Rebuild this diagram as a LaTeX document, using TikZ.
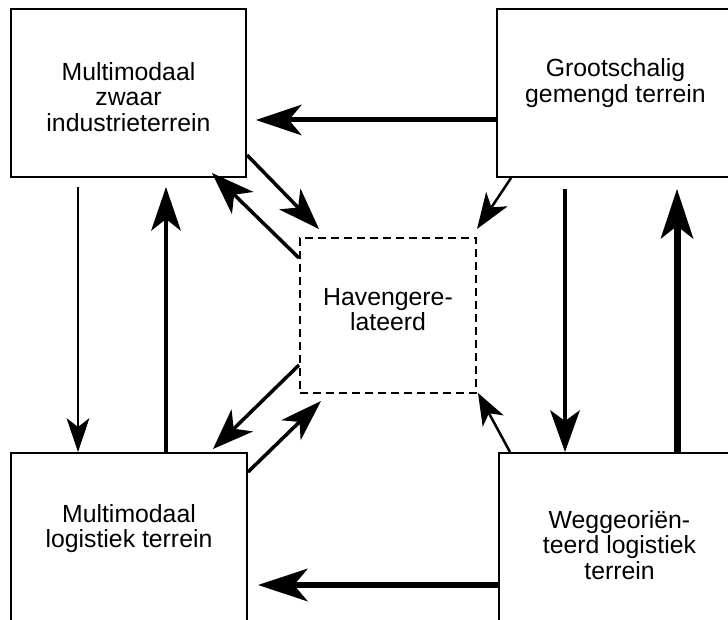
\documentclass[tikz,border=0pt]{standalone}
\usepackage{fontspec}
\setmainfont{Liberation Sans}
\usetikzlibrary{arrows.meta}
\tikzstyle{terrein}=[draw=black,line width=2pt,inner sep=0pt]
\tikzstyle{haven}=[draw=black,line width=2pt,dash pattern=on 8pt off 5pt,inner sep=0pt,minimum width=176pt,minimum height=155pt]
\tikzstyle{txt}=[align=center,inner sep=0pt,font=\fontsize{24.8}{25.5}\selectfont]
\tikzset{pijl/.style n args={4}{line width=#1pt,-{Stealth[length=#2pt,width=#3pt,inset=#4pt,line width=0pt]}}}

\begin{document}
\begin{tikzpicture}[x=1pt,y=-1pt]
  \clip (0,0) rectangle (728,620);
  % terreinen
  \node[terrein,minimum width=235pt,minimum height=168pt] (zi) at (128.5,93) {};
  \node[terrein,minimum width=243pt,minimum height=168pt] (gg) at (618.5,93) {};
  \node[terrein,minimum width=236pt,minimum height=187pt] (ml) at (129,546.5) {};
  \node[terrein,minimum width=241pt,minimum height=187pt] (wl) at (619.5,546.5) {};
  \node[haven] (hv) at (388,315.5) {};
  \node[txt] (zi-t) at ([yshift=-4pt]zi.center) {Multimodaal\\zwaar\\industrieterrein};
  \node[txt] (gg-t) at ([xshift=-3pt,yshift=10pt]gg.center) {Grootschalig\\gemengd terrein};
  \node[txt] (ml-t) at ([yshift=18pt]ml.center) {Multimodaal\\logistiek terrein};
  \node[txt] (wl-t) at ([yshift=1.5pt]wl.center) {Weggeoriën-\\teerd logistiek\\terrein};
  \node[txt] (hv-t) at ([yshift=6pt]hv.center) {Havengere-\\lateerd};
  % horizontaal
  \draw[pijl={5}{46}{31}{13}] ([yshift=-27pt]gg.west) -- ([xshift=9pt,yshift=-27pt]zi.east);
  \draw[pijl={5.5}{50}{33}{14}] ([yshift=-38.5pt]wl.west) -- ([xshift=10pt,yshift=-38.5pt]ml.east);
  % verticaal
  \draw[pijl={2.5}{34}{23}{9}] ([xshift=-50.5pt,yshift=-9pt]zi.south) -- ([xshift=-51pt]ml.north);
  \draw[pijl={4}{44}{30}{12}] ([xshift=37pt]ml.north) -- ([xshift=37.5pt,yshift=-9pt]zi.south);
  \draw[pijl={4}{42}{30}{11}] ([xshift=-53.5pt,yshift=-11pt]gg.south) -- ([xshift=-54.5pt]wl.north);
  \draw[pijl={7}{50}{33}{13}] ([xshift=57.5pt]wl.north) -- ([xshift=58.5pt,yshift=-11pt]gg.south);
  % diagonaal
  \draw[pijl={3.5}{42}{30}{12}] ([yshift=-62pt]zi.east) -- ([xshift=20pt,yshift=8pt]hv.north west);
  \draw[pijl={3.5}{43}{31}{12}] ([yshift=57.5pt]hv.west) -- ([xshift=-35pt,yshift=5pt]zi.south east);
  \draw[pijl={3.5}{41}{31}{12}] ([yshift=-49.5pt]hv.west) -- ([xshift=-35pt,yshift=3pt]ml.north east);
  \draw[pijl={3.5}{42}{28}{12}] ([yshift=-20pt]ml.north east) -- ([xshift=22pt,yshift=-7pt]hv.south west);
  \draw[pijl={2.5}{36}{26}{10}] ([xshift=15pt]gg.south west) -- ([yshift=8pt]hv.north east);
  \draw[pijl={2.5}{32}{24}{9}] ([xshift=12pt]wl.north west) -- ([xshift=1pt,yshift=1pt]hv.south east);
\end{tikzpicture}
\end{document}
